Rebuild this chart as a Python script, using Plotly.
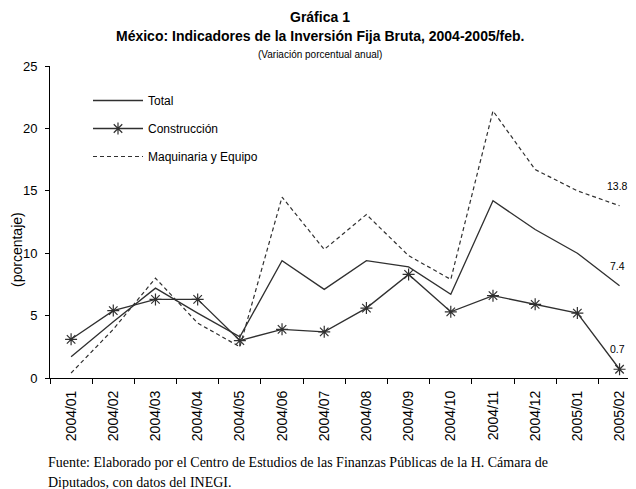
import plotly.graph_objects as go

categorias = ["2004/01", "2004/02", "2004/03", "2004/04", "2004/05", "2004/06", "2004/07",
              "2004/08", "2004/09", "2004/10", "2004/11", "2004/12", "2005/01", "2005/02"]
total = [1.7, 4.5, 7.2, 5.2, 3.3, 9.4, 7.1, 9.4, 8.9, 6.7, 14.2, 11.9, 10.0, 7.4]
construccion = [3.1, 5.4, 6.3, 6.3, 3.0, 3.9, 3.7, 5.6, 8.3, 5.3, 6.6, 5.9, 5.2, 0.7]
maquinaria = [0.4, 3.9, 8.0, 4.4, 2.5, 14.5, 10.3, 13.1, 9.8, 7.9, 21.4, 16.7, 15.0, 13.8]
y_ticks = [0, 5, 10, 15, 20, 25]

COL = "#303030"
SANS = "Liberation Sans, Arial"
SERIF = "Liberation Serif, Times New Roman, serif"

# page is offset by the body's 8px margin
OFF = 8
PLOT_BOTTOM = 378
PLOT_H = 312


def py(page_y):
    return (PLOT_BOTTOM - page_y) / PLOT_H


fig = go.Figure()
fig.add_trace(go.Scatter(x=categorias, y=total, mode="lines", name="Total",
                         line=dict(color=COL, width=1.3), legendgroup="a"))
fig.add_trace(go.Scatter(x=categorias, y=construccion, mode="lines+markers", name="Construcción",
                         line=dict(color=COL, width=1.3),
                         marker=dict(symbol="asterisk-open", size=10, color=COL,
                                     line=dict(color=COL, width=1.2)),
                         legendgroup="b"))
fig.add_trace(go.Scatter(x=categorias, y=maquinaria, mode="lines", name="Maquinaria y Equipo",
                         line=dict(color=COL, width=1.2, dash="4px,3px"), legendgroup="c"))

for serie in (maquinaria, total, construccion):
    fig.add_annotation(x=categorias[-1], y=serie[-1], text=f"{serie[-1]:.1f}",
                       showarrow=False, yshift=20, xshift=-2,
                       font=dict(family=SANS, size=10.5, color="#000"))

tx = (320 - 50) / 586
fig.add_annotation(xref="paper", yref="paper", x=tx, y=py(17), yanchor="middle",
                   text="<b>Gráfica 1</b>",
                   showarrow=False, font=dict(family=SANS, size=14, color="#000"))
fig.add_annotation(xref="paper", yref="paper", x=tx, y=py(36), yanchor="middle",
                   text="<b>México: Indicadores de la Inversión Fija Bruta, 2004-2005/feb.</b>",
                   showarrow=False, font=dict(family=SANS, size=14, color="#000"))
fig.add_annotation(xref="paper", yref="paper", x=tx, y=py(55), yanchor="middle",
                   text="(Variación porcentual anual)",
                   showarrow=False, font=dict(family=SANS, size=10, color="#000"))
fig.add_annotation(xref="paper", yref="paper", x=0, xanchor="center", xshift=-33,
                   y=py(250), yanchor="middle",
                   text="(porcentaje)", textangle=-90,
                   showarrow=False, font=dict(family=SANS, size=14, color="#000"))
fig.add_annotation(xref="paper", yref="paper", x=0, xshift=-4, xanchor="left",
                   y=py(462), yanchor="middle",
                   text="Fuente: Elaborado por el Centro de Estudios de las Finanzas Públicas de la H. Cámara de",
                   showarrow=False, font=dict(family=SERIF, size=14, color="#000"))
fig.add_annotation(xref="paper", yref="paper", x=0, xshift=-4, xanchor="left",
                   y=py(482), yanchor="middle",
                   text="Diputados, con datos del INEGI.",
                   showarrow=False, font=dict(family=SERIF, size=14, color="#000"))

fig.update_layout(
    width=636 - OFF, height=489 - OFF,
    margin=dict(l=50 - OFF, r=0, t=66 - OFF, b=489 - OFF - (66 - OFF) - PLOT_H, autoexpand=False),
    paper_bgcolor="white", plot_bgcolor="white",
    showlegend=True,
    legend=dict(x=(88 - 50) / 586, y=py(86), xanchor="left", yanchor="top",
                bgcolor="rgba(0,0,0,0)", font=dict(family=SANS, size=12, color="#000"),
                traceorder="grouped", tracegroupgap=9, itemwidth=50),
    xaxis=dict(type="category", range=[-0.5, 13.39], showline=True, linecolor="#000", linewidth=1,
               ticks="outside", ticklen=5, tickcolor="#000", tickson="boundaries",
               tickangle=-90, showgrid=False, zeroline=False, ticklabelstandoff=6,
               tickfont=dict(family=SANS, size=14, color="#000")),
    yaxis=dict(range=[0, 25], tickvals=y_ticks, showline=True, linecolor="#000", linewidth=1,
               ticks="outside", ticklen=4, tickcolor="#000", showgrid=False, zeroline=False,
               ticklabelstandoff=5,
               tickfont=dict(family=SANS, size=13, color="#000")),
)

fig.write_html("out.html")
